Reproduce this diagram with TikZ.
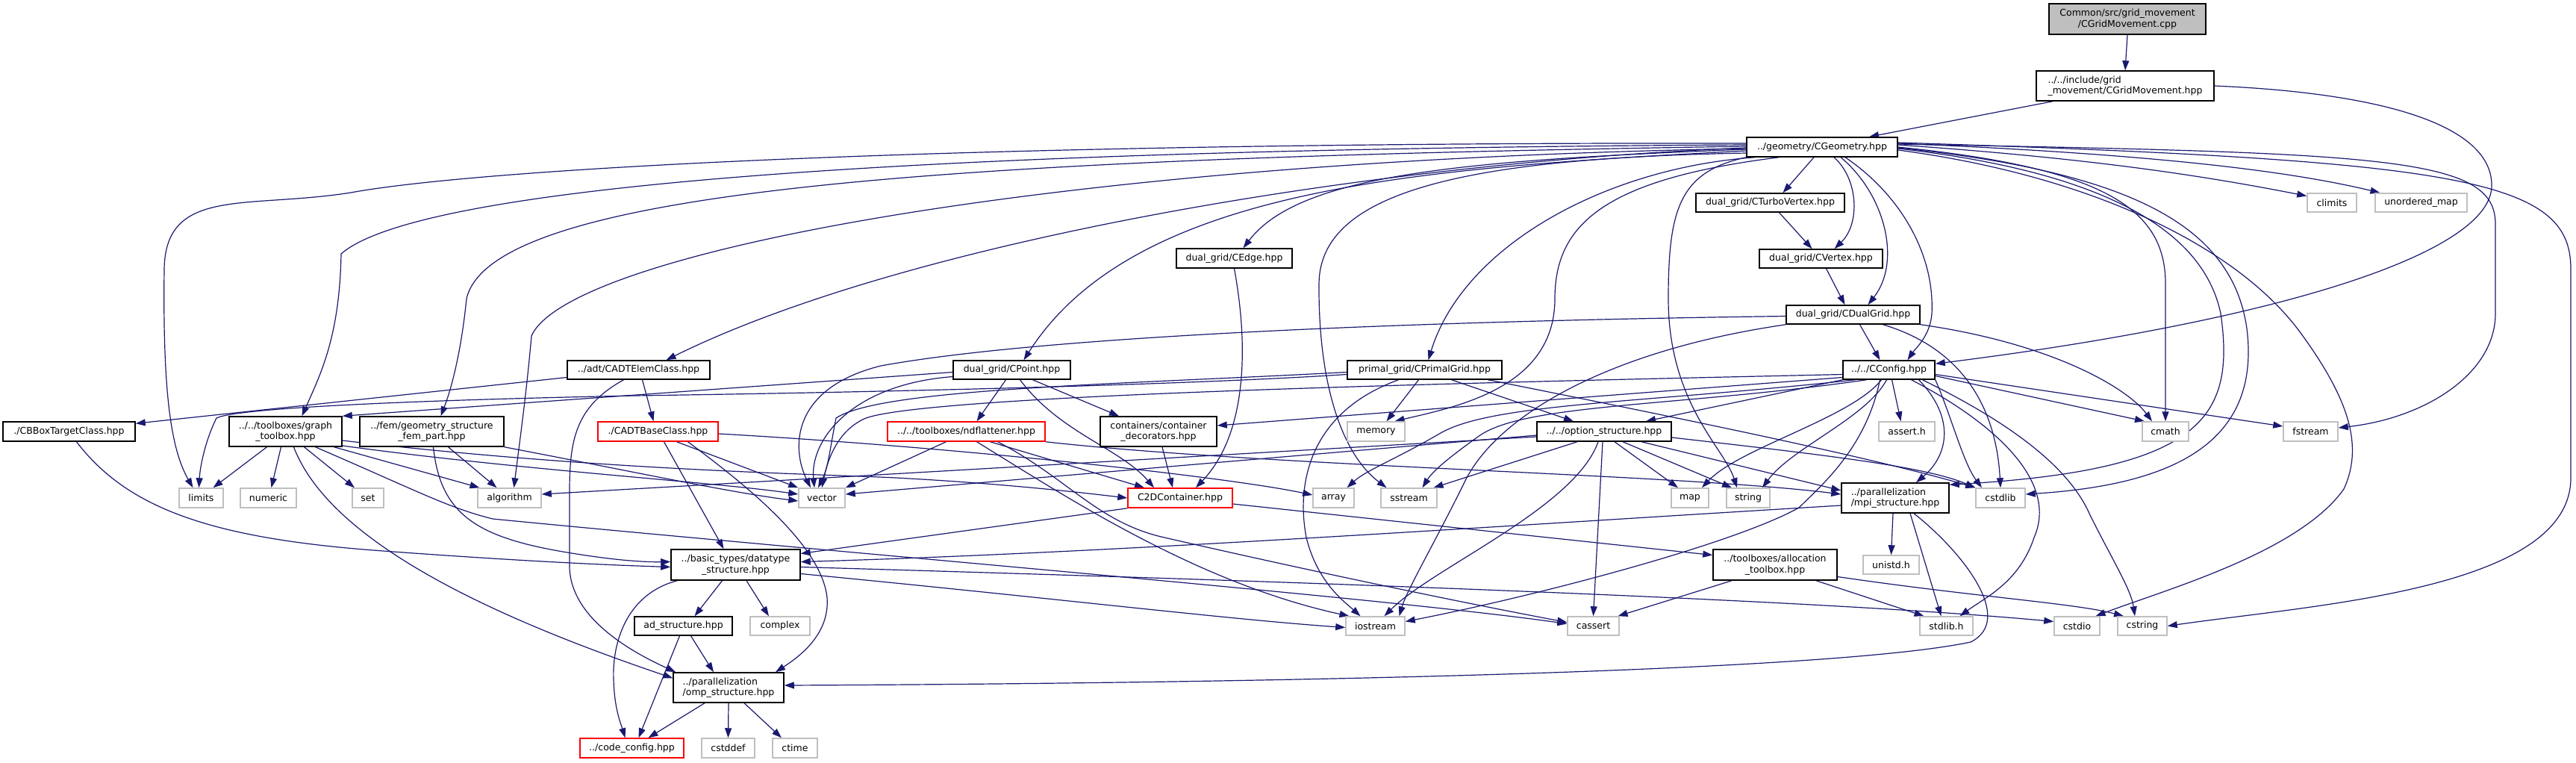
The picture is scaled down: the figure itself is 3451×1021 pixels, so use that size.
\documentclass[tikz,border=0pt]{standalone}
\usepackage{fontspec}
\setmainfont{DejaVu Sans}
\usetikzlibrary{arrows.meta,backgrounds}
\definecolor{edgec}{HTML}{191970}
\definecolor{sysgray}{HTML}{BFBFBF}
\definecolor{trred}{HTML}{FF0000}
\begin{document}
\begin{tikzpicture}[x=1pt,y=-1pt,
  box/.style={rectangle, inner sep=0pt, line width=1.5pt, fill=white, font=\fontsize{12.5}{14.5}\selectfont},
  proj/.style={box, draw=black},
  sys/.style={box, draw=sysgray},
  trunc/.style={box, draw=trred},
  rootbox/.style={box, draw=black, fill=sysgray},
  inc/.style={draw=edgec, line width=1.2pt, -{Triangle[length=13pt,width=9pt]}},
]
\useasboundingbox (0,0) rectangle (3451,1021);
% ---------------- nodes ----------------
\node[rootbox,minimum width=210pt,minimum height=41pt,align=center] (root) at (2850,25.5) {Common/src/grid\_movement\\/CGridMovement.cpp};
\node[proj,minimum width=238pt,minimum height=40pt,align=left] (gmhpp) at (2847,115) {../../include/grid\\\_movement/CGridMovement.hpp};
\node[proj,minimum width=202pt,minimum height=26pt] (geom) at (2441,197) {../geometry/CGeometry.hpp};
\node[proj,minimum width=199pt,minimum height=25pt] (turbo) at (2371.5,271.5) {dual\_grid/CTurboVertex.hpp};
\node[sys,minimum width=66pt,minimum height=25pt] (climits) at (3124,271.5) {climits};
\node[sys,minimum width=123pt,minimum height=25pt] (umap) at (3243.5,271.5) {unordered\_map};
\node[proj,minimum width=165pt,minimum height=25pt] (vertex) at (2439.5,346.5) {dual\_grid/CVertex.hpp};
\node[proj,minimum width=155pt,minimum height=26pt] (cedge) at (1653.5,346) {dual\_grid/CEdge.hpp};
\node[proj,minimum width=179pt,minimum height=25pt] (dualgrid) at (2482.5,421.5) {dual\_grid/CDualGrid.hpp};
\node[proj,minimum width=123pt,minimum height=25pt] (config) at (2530.5,495.5) {../../CConfig.hpp};
\node[proj,minimum width=207pt,minimum height=25pt] (primal) at (1908.5,495.5) {primal\_grid/CPrimalGrid.hpp};
\node[proj,minimum width=157pt,minimum height=25pt] (cpoint) at (1355.5,495.5) {dual\_grid/CPoint.hpp};
\node[proj,minimum width=191pt,minimum height=25pt] (adtelem) at (855.5,495.5) {../adt/CADTElemClass.hpp};
\node[proj,minimum width=177pt,minimum height=26pt] (bbox) at (92.5,578) {./CBBoxTargetClass.hpp};
\node[proj,minimum width=151pt,minimum height=40pt,align=center] (ngraph) at (382.5,578) {../../toolboxes/graph\\\_toolbox.hpp};
\node[proj,minimum width=193pt,minimum height=40pt,align=center] (fem) at (578.5,578) {../fem/geometry\_structure\\\_fem\_part.hpp};
\node[trunc,minimum width=161pt,minimum height=26pt] (adtbase) at (881.5,578) {./CADTBaseClass.hpp};
\node[trunc,minimum width=211pt,minimum height=26pt] (ndfl) at (1294.5,578) {../../toolboxes/ndflattener.hpp};
\node[proj,minimum width=156pt,minimum height=40pt,align=center] (contdec) at (1552,578) {containers/container\\\_decorators.hpp};
\node[sys,minimum width=77pt,minimum height=26pt] (memory) at (1843.5,578) {memory};
\node[proj,minimum width=180pt,minimum height=26pt] (optstruct) at (2149,578) {../../option\_structure.hpp};
\node[sys,minimum width=75pt,minimum height=26pt] (asserth) at (2554.5,578) {assert.h};
\node[sys,minimum width=62pt,minimum height=26pt] (cmath) at (2901,578) {cmath};
\node[sys,minimum width=73pt,minimum height=26pt] (fstream) at (3095.5,578) {fstream};
\node[sys,minimum width=59pt,minimum height=26pt] (limits) at (269.5,667) {limits};
\node[sys,minimum width=75pt,minimum height=26pt] (numeric) at (359.5,667) {numeric};
\node[sys,minimum width=42pt,minimum height=26pt] (hset) at (493,667) {set};
\node[sys,minimum width=85pt,minimum height=26pt] (algorithm) at (682.5,667) {algorithm};
\node[sys,minimum width=62pt,minimum height=26pt] (vector) at (1101,667) {vector};
\node[trunc,minimum width=140pt,minimum height=26pt] (ctwod) at (1581,667) {C2DContainer.hpp};
\node[sys,minimum width=55pt,minimum height=26pt] (harray) at (1786.5,667) {array};
\node[sys,minimum width=75pt,minimum height=26pt] (sstream) at (1887.5,667) {sstream};
\node[sys,minimum width=50pt,minimum height=26pt] (hmap) at (2264,667) {map};
\node[sys,minimum width=58pt,minimum height=26pt] (hstring) at (2342,667) {string};
\node[proj,minimum width=144pt,minimum height=40pt,align=left] (mpi) at (2539,667) {../parallelization\\/mpi\_structure.hpp};
\node[sys,minimum width=66pt,minimum height=26pt] (cstdlib) at (2680,667) {cstdlib};
\node[proj,minimum width=173pt,minimum height=41pt,align=center] (datatype) at (985.5,756.5) {../basic\_types/datatype\\\_structure.hpp};
\node[proj,minimum width=166pt,minimum height=41pt,align=center] (alloc) at (2378,756.5) {../toolboxes/allocation\\\_toolbox.hpp};
\node[sys,minimum width=75pt,minimum height=25pt] (unistd) at (2533.5,756.5) {unistd.h};
\node[proj,minimum width=131pt,minimum height=25pt] (adstr) at (915.5,838.5) {ad\_structure.hpp};
\node[sys,minimum width=80pt,minimum height=25pt] (complex) at (1045,838.5) {complex};
\node[sys,minimum width=79pt,minimum height=25pt] (iostream) at (1842.5,838.5) {iostream};
\node[sys,minimum width=69pt,minimum height=25pt] (cassert) at (2134.5,838.5) {cassert};
\node[sys,minimum width=71pt,minimum height=25pt] (stdlibh) at (2607.5,838.5) {stdlib.h};
\node[sys,minimum width=61pt,minimum height=25pt] (cstdio) at (2782.5,838.5) {cstdio};
\node[sys,minimum width=66pt,minimum height=25pt] (cstring) at (2870,838.5) {cstring};
\node[proj,minimum width=148pt,minimum height=40pt,align=left] (omp) at (976,921) {../parallelization\\/omp\_structure.hpp};
\node[trunc,minimum width=139pt,minimum height=26pt] (codeconfig) at (846.5,1002) {../code\_config.hpp};
\node[sys,minimum width=71pt,minimum height=26pt] (cstddef) at (975.5,1002) {cstddef};
\node[sys,minimum width=60pt,minimum height=26pt] (ctime) at (1065,1002) {ctime};
% ---------------- edges ----------------
\begin{scope}[on background layer]
\fill[white] (0,0) rectangle (3451,1021);
% top
\draw[inc] (root.south) -- (gmhpp.north);
\draw[inc] ([xshift=-97pt]gmhpp.south) -- ([xshift=63pt]geom.north);
\draw[inc] (gmhpp.east) .. controls (3200,125) and (3340,170) .. (3338,250) .. controls (3335,340) and (3050,430) .. ([yshift=-5pt]config.north east);
% geometry
\draw[inc] ([xshift=-11pt]geom.south) -- ([xshift=17pt]turbo.north);
\draw[inc] ([xshift=12pt]turbo.south) -- ([xshift=-12pt]vertex.north);
\draw[inc] ([xshift=16pt]geom.south) .. controls (2490,240) and (2492,300) .. ([xshift=18pt]vertex.north);
\draw[inc] ([xshift=7pt]vertex.south) -- ([xshift=-11pt]dualgrid.north);
\draw[inc] ([xshift=25pt]geom.south) .. controls (2525,260) and (2548,350) .. ([xshift=20pt]dualgrid.north);
\draw[inc] ([xshift=9pt]dualgrid.south) -- ([xshift=-12pt]config.north);
\draw[inc] ([xshift=31pt]geom.south) .. controls (2545,260) and (2592,340) .. (2588,420) .. controls (2586,450) and (2565,468) .. ([xshift=25pt]config.north);
\draw[inc] ([xshift=-90pt]geom.south) .. controls (2150,225) and (1960,330) .. ([xshift=5pt]primal.north);
\draw[inc] ([yshift=-5pt]geom.west) .. controls (1900,225) and (1520,250) .. ([xshift=16pt]cpoint.north);
\draw[inc] ([yshift=-3pt]geom.west) .. controls (1950,215) and (1740,235) .. ([xshift=12pt]cedge.north);
\draw[inc] ([yshift=-1pt]geom.west) .. controls (1800,220) and (1200,330) .. ([xshift=37pt]adtelem.north);
\draw[inc] ([yshift=1pt]geom.west) .. controls (1300,212) and (660,250) .. (625,400) .. controls (618,470) and (605,520) .. ([xshift=12pt]fem.north);
\draw[inc] ([yshift=3pt]geom.west) .. controls (1200,200) and (560,250) .. (457,340) .. controls (455,450) and (430,500) .. ([xshift=22pt]ngraph.north);
\draw[inc] ([yshift=5pt]geom.west) .. controls (1300,190) and (650,225) .. (470,258) .. controls (330,280) and (222,250) .. (220,360) .. controls (218,520) and (228,600) .. ([xshift=-11pt]limits.north);
\draw[inc] ([yshift=-2pt]geom.west) .. controls (1400,215) and (760,340) .. (712,450) .. controls (705,530) and (695,600) .. ([xshift=6pt]algorithm.north);
\draw[inc] ([xshift=-58pt]geom.south) .. controls (2150,240) and (2083,300) .. (2083,400) .. controls (2083,520) and (1950,545) .. ([xshift=25pt]memory.north);
\draw[inc] ([yshift=-8pt]geom.west) .. controls (1950,212) and (1768,260) .. (1767,380) .. controls (1766,520) and (1800,610) .. ([xshift=-30pt]sstream.north);
\draw[inc] (geom.south west) .. controls (2250,230) and (2235,280) .. (2235,400) .. controls (2235,540) and (2310,600) .. ([xshift=-15pt]hstring.north);
\draw[inc] (geom.east) .. controls (2820,225) and (2901,280) .. (2901,380) -- (cmath.north);
\draw[inc] ([yshift=3pt]geom.east) .. controls (2800,212) and (2950,235) .. ([yshift=9pt]climits.west);
\draw[inc] ([yshift=5pt]geom.east) .. controls (2850,205) and (3050,225) .. ([xshift=-55pt]umap.north);
\draw[inc] ([yshift=4pt]geom.east) .. controls (3200,205) and (3343,210) .. (3343,300) -- (3343,420) .. controls (3343,500) and (3250,560) .. ([yshift=5pt]fstream.east);
\draw[inc] ([yshift=6pt]geom.east) .. controls (3300,215) and (3444,240) .. (3444,360) -- (3444,640) .. controls (3444,790) and (3100,810) .. (cstring.east);
\draw[inc] ([yshift=-4pt]geom.east) .. controls (2800,235) and (3000,330) .. (3085,450) .. controls (3150,540) and (3165,600) .. (3140,655) .. controls (3080,740) and (2900,790) .. ([xshift=25pt]cstdio.north);
\draw[inc] ([yshift=-2pt]geom.east) .. controls (2800,228) and (2950,300) .. (2975,420) .. controls (2995,560) and (2950,630) .. ([yshift=-3pt]mpi.north east);
\draw[inc] ([yshift=-1pt]geom.east) .. controls (2850,230) and (2990,300) .. (3010,440) .. controls (3030,600) and (2900,650) .. ([yshift=5pt]cstdlib.east);
% dual grid
\draw[inc] (dualgrid.south east) .. controls (2750,460) and (2850,520) .. ([xshift=-18pt]cmath.north);
\draw[inc] ([xshift=40pt]dualgrid.south) .. controls (2640,470) and (2675,560) .. (cstdlib.north);
\draw[inc] (dualgrid.south west) .. controls (2150,470) and (2000,560) .. (1960,650) .. controls (1915,740) and (1885,790) .. ([xshift=32pt]iostream.north);
\draw[inc] ([yshift=-2pt]dualgrid.west) .. controls (1900,430) and (1400,450) .. (1180,490) .. controls (1060,520) and (1060,600) .. ([xshift=-15pt]vector.north);
% config
\draw[inc] (config.south west) -- ([xshift=56pt]optstruct.north);
\draw[inc] ([xshift=4pt]config.south) -- ([xshift=-8pt]asserth.north);
\draw[inc] ([yshift=-10pt]config.west) -- ([yshift=8pt]contdec.east);
\draw[inc] ([yshift=-6pt]config.west) .. controls (2000,512) and (1250,528) .. (1160,560) .. controls (1125,575) and (1110,610) .. (vector.north);
\draw[inc] ([xshift=-45pt]config.south) .. controls (2200,540) and (2000,540) .. (1930,580) .. controls (1870,615) and (1830,630) .. ([xshift=18pt]harray.north);
\draw[inc] ([xshift=-30pt]config.south) .. controls (2250,545) and (2040,540) .. (1980,585) .. controls (1945,610) and (1920,630) .. ([xshift=18pt]sstream.north);
\draw[inc] ([xshift=-12pt]config.south) .. controls (2500,600) and (2440,650) .. (2410,680) .. controls (2320,730) and (2050,800) .. ([yshift=6pt]iostream.east);
\draw[inc] ([xshift=-10pt]config.south) .. controls (2480,560) and (2330,600) .. ([xshift=16pt]hmap.north);
\draw[inc] ([xshift=-3pt]config.south) .. controls (2500,560) and (2400,600) .. ([xshift=19pt]hstring.north);
\draw[inc] ([xshift=40pt]config.south) .. controls (2620,560) and (2610,610) .. ([xshift=28pt]mpi.north);
\draw[inc] (config.south east) .. controls (2615,560) and (2630,620) .. ([xshift=-25pt]cstdlib.north);
\draw[inc] ([xshift=30pt]config.south) .. controls (2660,560) and (2760,640) .. (2725,720) .. controls (2705,780) and (2660,800) .. ([xshift=18pt]stdlibh.north);
\draw[inc] ([xshift=45pt]config.south) .. controls (2680,560) and (2770,620) .. (2800,690) .. controls (2830,750) and (2855,790) .. ([xshift=-10pt]cstring.north);
\draw[inc] ([yshift=-8pt]config.east) -- ([xshift=-28pt]cmath.north);
\draw[inc] ([yshift=-6pt]config.east) -- ([yshift=7pt]fstream.west);
% primal grid
\draw[inc] ([xshift=36pt]primal.south) -- ([xshift=-41pt]optstruct.north);
\draw[inc] ([xshift=-8pt]primal.south) -- ([xshift=14pt]memory.north);
\draw[inc] ([yshift=-3pt]primal.west) .. controls (1500,515) and (1180,520) .. (1120,560) .. controls (1112,600) and (1110,625) .. ([xshift=-5pt]vector.north);
\draw[inc] ([yshift=-6pt]primal.west) .. controls (1600,515) and (1200,525) .. (850,530) .. controls (600,535) and (320,545) .. (290,560) .. controls (275,590) and (268,625) .. ([xshift=-3pt]limits.north);
\draw[inc] ([xshift=-35pt]primal.south) .. controls (1760,550) and (1735,640) .. (1750,720) .. controls (1765,780) and (1800,805) .. ([xshift=-20pt]iostream.north);
\draw[inc] ([xshift=85pt]primal.south) .. controls (2200,550) and (2500,610) .. (cstdlib.north west);
% point
\draw[inc] ([xshift=-8pt]cpoint.south) -- ([xshift=14pt]ndfl.north);
\draw[inc] ([xshift=28pt]cpoint.south) -- ([xshift=-53pt]contdec.north);
\draw[inc] ([xshift=11pt]cpoint.south) .. controls (1420,580) and (1500,600) .. ([xshift=-35pt]ctwod.north);
\draw[inc] ([yshift=-3pt]cpoint.west) -- (ngraph.north east);
\draw[inc] ([yshift=-9pt]cpoint.west) .. controls (1140,515) and (1085,590) .. ([xshift=-10pt]vector.north);
% edge, decorators, ndflattener
\draw[inc] (cedge.south) .. controls (1672,460) and (1672,580) .. ([xshift=21pt]ctwod.north);
\draw[inc] ([xshift=5pt]contdec.south) -- ([xshift=-10pt]ctwod.north);
\draw[inc] ([xshift=32pt]ndfl.south) -- ([xshift=-48pt]ctwod.north);
\draw[inc] ([xshift=-27pt]ndfl.south) -- (vector.north east);
\draw[inc] ([xshift=14pt]ndfl.south) .. controls (1420,660) and (1600,780) .. ([xshift=-35pt]iostream.north);
\draw[inc] ([xshift=42pt]ndfl.south) .. controls (1430,640) and (1470,700) .. (1560,720) .. controls (1800,775) and (2000,815) .. ([yshift=5pt]cassert.west);
\draw[inc] (ndfl.south east) .. controls (1700,625) and (2250,635) .. ([yshift=5pt]mpi.west);
% adt
\draw[inc] ([yshift=-10pt]adtelem.west) -- ([yshift=-3pt]bbox.north east);
\draw[inc] ([xshift=5pt]adtelem.south) -- ([xshift=-6pt]adtbase.north);
\draw[inc] ([xshift=-20pt]adtelem.south) .. controls (770,545) and (763,590) .. (763,660) -- (763,760) .. controls (765,830) and (850,875) .. ([xshift=4pt]omp.north west);
\draw[inc] ([xshift=25pt]adtbase.south) -- (vector.north west);
\draw[inc] ([xshift=8pt]adtbase.south) -- ([xshift=-16pt]datatype.north);
\draw[inc] ([xshift=40pt]adtbase.south) .. controls (1000,650) and (1100,730) .. (1108,800) .. controls (1112,850) and (1070,880) .. ([xshift=63pt]omp.north);
\draw[inc] ([yshift=-3pt]adtbase.east) .. controls (1300,600) and (1650,640) .. ([yshift=4pt]harray.west);
% graph toolbox
\draw[inc] ([xshift=-25pt]ngraph.south) -- ([xshift=16pt]limits.north);
\draw[inc] ([xshift=-6pt]ngraph.south) -- ([xshift=4pt]numeric.north);
\draw[inc] ([xshift=11pt]ngraph.south) .. controls (440,720) and (640,820) .. ([yshift=-8pt]omp.north west);
\draw[inc] ([xshift=25pt]ngraph.south) -- ([xshift=-18pt]hset.north);
\draw[inc] ([xshift=40pt]ngraph.south) .. controls (560,658) and (600,680) .. (660,695) .. controls (1100,738) and (1850,800) .. ([yshift=3pt]cassert.west);
\draw[inc] ([xshift=65pt]ngraph.south) -- ([xshift=-40pt]algorithm.north);
\draw[inc] ([yshift=-19pt]ngraph.east) .. controls (700,630) and (950,645) .. ([yshift=5pt]vector.west);
\draw[inc] ([yshift=-12pt]ngraph.east) .. controls (800,630) and (1100,635) .. (1200,640) .. controls (1350,648) and (1450,660) .. (ctwod.west);
% fem, bbox
\draw[inc] ([xshift=22pt]fem.south) -- ([xshift=-17pt]algorithm.north);
\draw[inc] ([xshift=2pt]fem.south) .. controls (590,690) and (640,720) .. (760,740) .. controls (820,750) and (860,753) .. ([yshift=4pt]datatype.west);
\draw[inc] (fem.south east) .. controls (850,632) and (980,660) .. ([yshift=-4pt]vector.west);
\draw[inc] ([xshift=10pt]bbox.south) .. controls (170,680) and (280,720) .. (500,737) .. controls (700,752) and (820,757) .. ([yshift=-3pt]datatype.west);
% C2DContainer
\draw[inc] (ctwod.south west) -- ([yshift=15pt]datatype.east);
\draw[inc] ([yshift=-8pt]ctwod.east) -- ([yshift=13pt]alloc.west);
% option structure
\draw[inc] ([xshift=50pt]optstruct.south) -- ([yshift=10pt]mpi.west);
\draw[inc] ([yshift=-8pt]optstruct.east) .. controls (2450,610) and (2580,625) .. (cstdlib.north west);
\draw[inc] ([xshift=14pt]optstruct.south) -- ([xshift=-16pt]hmap.north);
\draw[inc] ([xshift=25pt]optstruct.south) -- ([xshift=-22pt]hstring.north);
\draw[inc] ([xshift=-36pt]optstruct.south) -- ([xshift=33pt]sstream.north);
\draw[inc] ([xshift=-8pt]optstruct.south) .. controls (2110,680) and (1920,760) .. ([xshift=12pt]iostream.north);
\draw[inc] ([xshift=-2pt]optstruct.south) -- (cassert.north);
\draw[inc] ([yshift=-5pt]optstruct.west) -- ([yshift=5pt]vector.east);
\draw[inc] ([yshift=-7pt]optstruct.west) -- ([yshift=5pt]algorithm.east);
% mpi
\draw[inc] ([yshift=-10pt]mpi.west) .. controls (2000,705) and (1500,740) .. ([yshift=4pt]datatype.east);
\draw[inc] ([xshift=25pt]mpi.south) .. controls (2630,740) and (2700,830) .. (2640,860) .. controls (2450,900) and (1700,915) .. ([yshift=3pt]omp.east);
\draw[inc] ([xshift=-3pt]mpi.south) -- (unistd.north);
\draw[inc] ([xshift=20pt]mpi.south) -- ([xshift=-7pt]stdlibh.north);
% datatype, ad, omp
\draw[inc] ([xshift=-18pt]datatype.south) -- ([xshift=15pt]adstr.north);
\draw[inc] ([xshift=14.5pt]datatype.south) -- ([xshift=-15pt]complex.north);
\draw[inc] ([xshift=-78pt]datatype.south) .. controls (840,795) and (820,860) .. (822,910) .. controls (823,950) and (832,970) .. ([xshift=-9pt]codeconfig.north);
\draw[inc] ([yshift=-12pt]datatype.east) .. controls (1400,800) and (1650,830) .. ([yshift=-2pt]iostream.west);
\draw[inc] ([yshift=-3pt]datatype.east) .. controls (1600,775) and (2400,800) .. ([yshift=6pt]cstdio.west);
\draw[inc] ([xshift=10pt]adstr.south) -- ([xshift=-20pt]omp.north);
\draw[inc] ([xshift=-5pt]adstr.south) -- ([xshift=9pt]codeconfig.north);
\draw[inc] ([xshift=-32pt]omp.south) -- ([xshift=22pt]codeconfig.north);
\draw[inc] (omp.south) -- (cstddef.north);
\draw[inc] ([xshift=21pt]omp.south) -- ([xshift=-18pt]ctime.north);
% allocation toolbox
\draw[inc] ([xshift=-58pt]alloc.south) -- ([xshift=33pt]cassert.north);
\draw[inc] ([xshift=55pt]alloc.south) -- ([xshift=-30pt]stdlibh.north);
\draw[inc] ([yshift=-16pt]alloc.east) .. controls (2650,800) and (2780,808) .. ([xshift=-25pt]cstring.north);
\end{scope}
\end{tikzpicture}
\end{document}
